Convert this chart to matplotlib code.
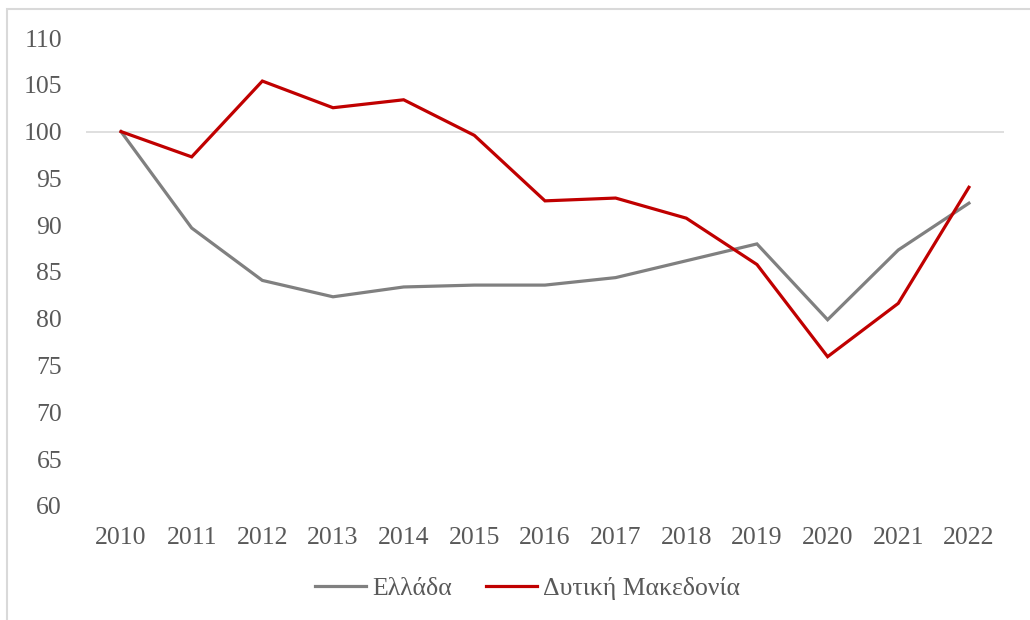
import matplotlib
matplotlib.use("Agg")
import matplotlib.pyplot as plt
from matplotlib.patches import Rectangle

# Data (index, 2010 = 100)
years = [2010, 2011, 2012, 2013, 2014, 2015, 2016, 2017, 2018, 2019, 2020, 2021, 2022]
greece = [100.0, 89.7, 84.1, 82.35, 83.4, 83.6, 83.6, 84.4, 86.2, 88.0, 79.9, 87.35, 92.35]
west_macedonia = [100.0, 97.3, 105.4, 102.55, 103.4, 99.6, 92.6, 92.9, 90.75, 85.8, 75.95, 81.65, 94.05]
series_labels = ["Ελλάδα", "Δυτική Μακεδονία"]
y_ticks = [60, 65, 70, 75, 80, 85, 90, 95, 100, 105, 110]
BASE = 100

TEXT_COLOR = "#595959"
plt.rcParams["font.family"] = ["Liberation Serif", "DejaVu Serif"]
plt.rcParams["font.size"] = 18.5

fig = plt.figure(figsize=(10.3, 6.2), dpi=100)
ax = fig.add_axes([0.0832, 0.1839, 0.8918, 0.7548])

# chart frame (light border, cut off at right/bottom like the source)
fig.patches.append(Rectangle((7 / 1030, -0.1), 1.2, 1 - 9 / 620 + 0.1,
                             transform=fig.transFigure, fill=False,
                             edgecolor="#d9d9d9", linewidth=1.5, zorder=0))

ax.axhline(BASE, color="#d9d9d9", linewidth=1.2, zorder=1)

ax.plot(years, greece, color="#808080", linewidth=2.3, label=series_labels[0],
        solid_joinstyle="miter", zorder=3)
ax.plot(years, west_macedonia, color="#C00000", linewidth=2.3, label=series_labels[1],
        solid_joinstyle="miter", zorder=4)

ax.set_xlim(years[0] - 0.5, years[-1] + 0.5)
ax.set_ylim(y_ticks[0], y_ticks[-1])
ax.set_xticks(years)
ax.set_xticklabels([str(y) for y in years])
ax.set_yticks(y_ticks)
ax.tick_params(axis="both", length=0, colors=TEXT_COLOR)
ax.tick_params(axis="y", pad=17)
ax.tick_params(axis="x", pad=15)
for s in ax.spines.values():
    s.set_visible(False)

leg = ax.legend(loc="center", bbox_to_anchor=(0.481, -0.177), ncol=2, frameon=False,
                handlelength=2.0, handletextpad=0.25, columnspacing=1.3)
for t in leg.get_texts():
    t.set_color(TEXT_COLOR)

fig.savefig("out.png", dpi=100)
